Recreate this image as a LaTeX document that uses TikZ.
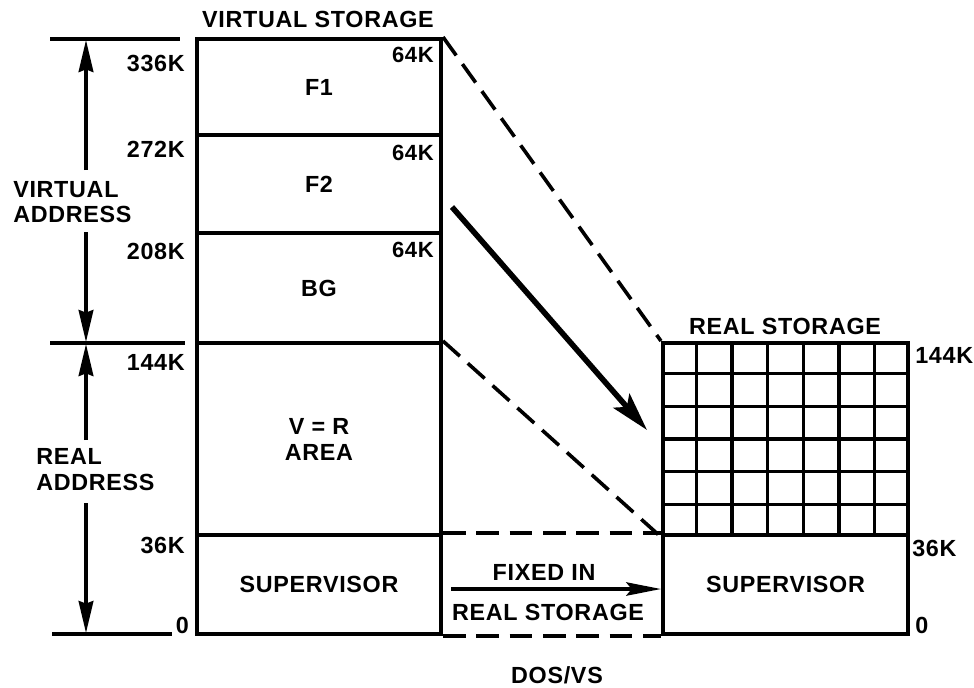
\documentclass[tikz,border=0pt]{standalone}
\usepackage{fontspec}
\setmainfont{Liberation Sans}[LetterSpace=3]
\usetikzlibrary{arrows.meta,calc}
\newcommand\lblfont{\bfseries\fontsize{17.5}{19.5}\selectfont}
\newcommand\smlfont{\bfseries\fontsize{16.5}{18}\selectfont}
\begin{document}
\begin{tikzpicture}[x=0.75pt,y=-0.75pt,
  box/.style={draw, line width=3pt, minimum width=183pt, inner sep=0pt, font=\lblfont, align=center},
  lbl/.style={font=\lblfont, inner sep=0pt, align=center},
  sml/.style={font=\smlfont, inner sep=0pt},
  tick/.style={line width=2.8pt},
  gridline/.style={line width=2.5pt},
  dashline/.style={line width=2.7pt, dash pattern=on 17pt off 8pt},
  dimarrow/.style={line width=2.6pt, -{Stealth[length=24pt,width=11pt,inset=2pt]}},
  bigarrow/.style={line width=4.2pt, -{Stealth[length=29pt,width=16pt,inset=6pt]}},
  fixarrow/.style={line width=2.7pt, -{Stealth[length=26pt,width=10pt,inset=4pt]}}]
\useasboundingbox (0,0) rectangle (974,687);

% virtual storage column
\node[box, minimum height=72pt]    (f1)  at (319,87)    {F1};
\node[box, minimum height=73.5pt]  (f2)  at (319,184)   {F2};
\node[box, minimum height=82.5pt]  (bg)  at (319,288)   {BG};
\node[box, minimum height=144pt]   (vr)  at (319,439)   {V = R\\AREA};
\node[box, minimum height=74.25pt] (sup) at (319,584.5) {SUPERVISOR};

% real storage column
\node[box, minimum width=183.75pt, minimum height=144pt]   (grid) at (785.5,439)   {};
\node[box, minimum width=183.75pt, minimum height=74.25pt] (rsup) at (785.5,584.5) {SUPERVISOR};
\foreach \i in {1,...,6}
  \draw[gridline] ($(grid.north west)!\i/7!(grid.north east)$) -- ($(grid.south west)!\i/7!(grid.south east)$);
\foreach \j in {1,...,5}
  \draw[gridline] ($(grid.north west)!\j/6!(grid.south west)$) -- ($(grid.north east)!\j/6!(grid.south east)$);

% titles
\node[lbl] (vtitle) at (318,19) {VIRTUAL STORAGE};
\node[lbl] (rtitle) at (785,326) {REAL STORAGE};
\node[lbl] (dos) at (557,675) {DOS/VS};

% 64K labels
\node[sml, anchor=east] (s1) at (434,55)  {64K};
\node[sml, anchor=east] (s2) at (434,153) {64K};
\node[sml, anchor=east] (s3) at (434,250) {64K};

% left address labels
\node[lbl, anchor=east] (k336) at (185,63)  {336K};
\node[lbl, anchor=east] (k272) at (185,149) {272K};
\node[lbl, anchor=east] (k208) at (185,251) {208K};
\node[lbl, anchor=east] (k144) at (185,362) {144K};
\node[lbl, anchor=east] (k36)  at (185,545) {36K};
\node[lbl, anchor=east] (k0)   at (189,625) {0};

% right address labels
\node[lbl, anchor=west] (r144) at (915,355) {144K};
\node[lbl, anchor=west] (r36)  at (912,548) {36K};
\node[lbl, anchor=west] (r0)   at (915,625) {0};

% left dimension lines
\coordinate (t1a) at (50,39);  \coordinate (t1b) at (180,39);
\coordinate (t2a) at (50,343); \coordinate (t2b) at (185,343);
\coordinate (t3a) at (52,634); \coordinate (t3b) at (172,634);
\draw[tick] (t1a) -- (t1b);
\draw[tick] (t2a) -- (t2b);
\draw[tick] (t3a) -- (t3b);

\node[lbl, align=left, anchor=west, font=\bfseries\fontsize{17.5}{18.75}\selectfont] (vaddr) at (13,202) {VIRTUAL\\ADDRESS};
\node[lbl, align=left, anchor=west] (raddr) at (36,470) {REAL\\ADDRESS};

\coordinate (va) at (86,170); \coordinate (vtop) at (86,40);
\coordinate (vb) at (86,232); \coordinate (vbot) at (86,342);
\coordinate (ra) at (86,440); \coordinate (rtop) at (86,344);
\coordinate (rb) at (86,503); \coordinate (rbot) at (86,633);
\draw[dimarrow] (va) -- (vtop);
\draw[dimarrow] (vb) -- (vbot);
\draw[dimarrow] (ra) -- (rtop);
\draw[dimarrow] (rb) -- (rbot);

% dashed mapping lines
\draw[dashline] (f1.north east) -- (grid.north west);
\draw[dashline] (vr.north east) -- (grid.south west);
\draw[dashline] (sup.north east) -- (rsup.north west);
\draw[dashline] (sup.south east) -- (rsup.south west);

% paging arrow
\coordinate (pa) at (452,207); \coordinate (pb) at (647,430);
\draw[bigarrow] (pa) -- (pb);

% fixed in real storage
\coordinate (fa) at (451,589); \coordinate (fb) at (661,589);
\draw[fixarrow] (fa) -- (fb);
\node[lbl] (fixed) at (544,572) {FIXED IN};
\node[lbl] (fixrs) at (548,612) {REAL STORAGE};
\end{tikzpicture}
\end{document}
